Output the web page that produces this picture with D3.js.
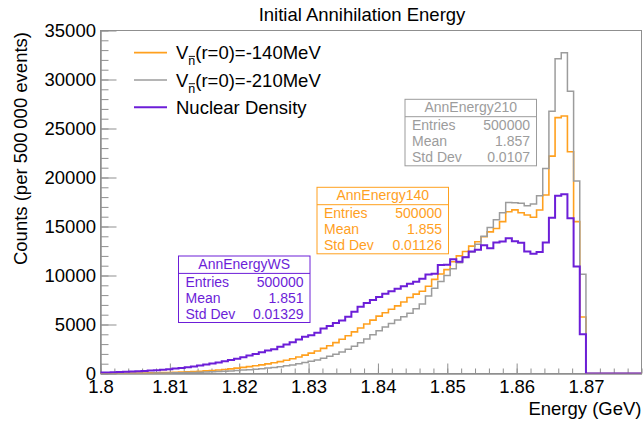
<!DOCTYPE html>
<html>
<head>
<meta charset="utf-8">
<script src="https://cdn.jsdelivr.net/npm/d3@7"></script>
<style>
  body { margin: 0; background: #fff; }
  svg { display: block; }
  text { font-family: "Liberation Sans", Arial, Helvetica, sans-serif; }
</style>
</head>
<body>
<svg id="chart" width="643" height="422"></svg>
<script>
// ---- Histogram binning (200 bins over 1.7 .. 1.878 GeV) ----
const histMin = 1.7;
const histMax = 1.878;
const nBins = 200;
const firstShownBin = 112;          // first bin reaching into the shown range

// Bin contents starting at firstShownBin (remaining bins are empty)
const countsWS = [
  90, 105, 125, 145, 170, 200, 230, 265, 300, 340,
  385, 440, 500, 570, 640, 720, 810, 910, 1020, 1130,
  1250, 1380, 1510, 1660, 1830, 2000, 2170, 2340, 2480, 2720,
  2950, 3200, 3480, 3750, 3900, 4150, 4600, 4850, 5150, 5400,
  5800, 6300, 6800, 7200, 7500, 7800, 8150, 8400, 8650, 8900,
  9150, 9350, 9670, 10100, 10180, 11060, 11100, 11670, 11400, 11870,
  12440, 12620, 13090, 12790, 13360, 13470, 13800, 13500, 13350, 12450,
  12210, 12400, 13380, 15900, 18140, 18280, 15840, 10920, 4000
];
const counts140 = [
  12, 15, 19, 23, 28, 34, 41, 50, 60, 72,
  86, 102, 120, 140, 165, 195, 230, 270, 310, 360,
  415, 475, 545, 620, 700, 790, 880, 980, 1090, 1210,
  1350, 1500, 1680, 1870, 2080, 2300, 2560, 2830, 3150, 3500,
  3850, 4250, 4650, 5050, 5450, 5850, 6200, 6550, 6900, 7300,
  7750, 8100, 8400, 8900, 9600, 10150, 10600, 11400, 12000, 12450,
  13000, 13450, 13950, 14450, 14800, 15500, 16500, 16700, 16400, 16180,
  15940, 16690, 18210, 22180, 26110, 26280, 22620, 15500, 5770
];
const counts210 = [
  5, 7, 9, 12, 15, 20, 25, 30, 36, 43,
  50, 60, 70, 82, 95, 110, 130, 150, 175, 200,
  230, 265, 300, 345, 390, 440, 490, 550, 620, 700,
  780, 880, 990, 1110, 1240, 1390, 1560, 1750, 1960, 2200,
  2470, 2780, 3150, 3520, 3950, 4350, 4750, 5100, 5450, 5800,
  6150, 6600, 7100, 7900, 8700, 9400, 10000, 10700, 11300, 11900,
  12400, 13200, 14000, 14900, 15700, 16400, 17450, 17430, 17370, 17130,
  17300, 18140, 20930, 26760, 32120, 32730, 28790, 19640, 10140
];

const xTickValues = [1.8, 1.81, 1.82, 1.83, 1.84, 1.85, 1.86, 1.87];
const yTickValues = [0, 5000, 10000, 15000, 20000, 25000, 30000, 35000];

const legendSub = ["(r=0)=-140MeV", "(r=0)=-210MeV"];
const statNames = ["AnnEnergy210", "AnnEnergy140", "AnnEnergyWS"];
const statEntries = ["500000", "500000", "500000"];
const statMeans = ["1.857", "1.855", "1.851"];
const statStdDevs = ["0.0107", "0.01126", "0.01329"];

// ---- Layout ----
const colors = { c140: "#ffa01e", c210: "#9c9c9c", ws: "#6c1ed8", axis: "#8f8f8f" };
const frame = { left: 100.5, right: 641.5, top: 30.5, bottom: 373.5 };

const svg = d3.select("#chart");

const x = d3.scaleLinear().domain([1.8, histMax]).range([frame.left, frame.right]);
const y = d3.scaleLinear().domain([0, 35000]).range([frame.bottom, frame.top]);

svg.append("defs").append("clipPath").attr("id", "plotClip")
  .append("rect")
  .attr("x", frame.left).attr("y", frame.top - 2)
  .attr("width", frame.right - frame.left)
  .attr("height", frame.bottom - frame.top + 2);

// frame
svg.append("rect")
  .attr("x", frame.left).attr("y", frame.top)
  .attr("width", frame.right - frame.left).attr("height", frame.bottom - frame.top)
  .attr("fill", "none").attr("stroke", colors.axis).attr("stroke-width", 1);

// ---- Axes (ticks pointing into the frame) ----
function styleAxis(g) {
  g.select(".domain").attr("stroke", colors.axis);
  g.selectAll(".tick line").attr("stroke", colors.axis);
  g.selectAll(".tick text")
    .attr("fill", "#000")
    .style("font-family", "'Liberation Sans', Arial, sans-serif")
    .style("font-size", "18.5px");
}

const xMinor = d3.range(0, 40).map(i => 1.8 + i * 0.002);
svg.append("g").attr("transform", `translate(0,${frame.bottom})`)
  .call(d3.axisBottom(x).tickValues(xMinor).tickSize(-5).tickSizeOuter(0).tickFormat(""))
  .call(styleAxis);
svg.append("g").attr("transform", `translate(0,${frame.bottom})`)
  .call(d3.axisBottom(x).tickValues(xTickValues).tickSize(-10).tickSizeOuter(0)
    .tickPadding(6.5).tickFormat(d3.format(".2~f")))
  .call(styleAxis);

const yMinor = d3.range(0, 36).map(i => i * 1000);
svg.append("g").attr("transform", `translate(${frame.left},0)`)
  .call(d3.axisLeft(y).tickValues(yMinor).tickSize(-8).tickSizeOuter(0).tickFormat(""))
  .call(styleAxis);
svg.append("g").attr("transform", `translate(${frame.left},0)`)
  .call(d3.axisLeft(y).tickValues(yTickValues).tickSize(-16).tickSizeOuter(0)
    .tickPadding(4.5).tickFormat(d3.format("d")))
  .call(styleAxis);

// ---- Histograms drawn as step outlines ----
const binWidth = (histMax - histMin) / nBins;
function stepPoints(counts) {
  const pts = [];
  d3.range(firstShownBin, nBins).forEach((k, i) => {
    const c = i < counts.length ? counts[i] : 0;
    const lo = histMin + k * binWidth, hi = lo + binWidth;
    pts.push([x(lo), y(c)], [x(hi), y(c)]);
  });
  return pts;
}
const line = d3.line();
const plot = svg.append("g").attr("clip-path", "url(#plotClip)");
[
  { counts: counts140, color: colors.c140, width: 1.6 },
  { counts: counts210, color: colors.c210, width: 1.5 },
  { counts: countsWS, color: colors.ws, width: 2 }
].forEach(s => {
  plot.append("path")
    .attr("d", line(stepPoints(s.counts)))
    .attr("fill", "none")
    .attr("stroke", s.color)
    .attr("stroke-width", s.width)
    .attr("stroke-linejoin", "miter");
});

// ---- Title and axis titles ----
svg.append("text").attr("x", 362).attr("y", 20.5)
  .attr("text-anchor", "middle").style("font-size", "18.5px")
  .text("Initial Annihilation Energy");

svg.append("text").attr("x", frame.right).attr("y", 415)
  .attr("text-anchor", "end").style("font-size", "18.5px")
  .text("Energy (GeV)");

svg.append("text")
  .attr("transform", `translate(27,32) rotate(-90)`)
  .attr("text-anchor", "end").style("font-size", "18.5px")
  .text("Counts (per 500\u2009000 events)");

// ---- Legend ----
const legendRows = [
  { color: colors.c140, width: 1.8, sub: legendSub[0] },
  { color: colors.c210, width: 1.6, sub: legendSub[1] },
  { color: colors.ws, width: 2, label: "Nuclear Density" }
];
legendRows.forEach((r, i) => {
  const cy = 52.7 + i * 27.3;
  const baseY = cy + 6.5;
  svg.append("line").attr("x1", 134).attr("x2", 167).attr("y1", cy).attr("y2", cy)
    .attr("stroke", r.color).attr("stroke-width", r.width);
  const t = svg.append("text").attr("x", 176).attr("y", baseY).style("font-size", "18.5px");
  if (r.label) {
    t.text(r.label);
  } else {
    const tv = t.append("tspan").text("V");
    const tn = t.append("tspan").attr("dy", 6).style("font-size", "12.5px").text("n");
    t.append("tspan").attr("dy", -6).text(r.sub);
    // bar over the subscript n (antineutron)
    const wV = tv.node().getComputedTextLength();
    const wN = tn.node().getComputedTextLength();
    const bx = 176 + wV;
    svg.append("line")
      .attr("x1", bx + 0.5).attr("x2", bx + wN - 0.3)
      .attr("y1", baseY - 2.8).attr("y2", baseY - 2.8)
      .attr("stroke", "#000").attr("stroke-width", 0.9);
  }
});

// ---- Statistics boxes ----
function statBox(x0, y0, color, name, entries, mean, std) {
  const w = 131.5, h = 66.5;
  const g = svg.append("g");
  g.append("rect").attr("x", x0).attr("y", y0).attr("width", w).attr("height", h)
    .attr("fill", "#fff").attr("stroke", color).attr("stroke-width", 1);
  g.append("line").attr("x1", x0).attr("x2", x0 + w).attr("y1", y0 + 17.4).attr("y2", y0 + 17.4)
    .attr("stroke", color).attr("stroke-width", 1);
  g.append("text").attr("x", x0 + w / 2).attr("y", y0 + 12.6).attr("text-anchor", "middle")
    .attr("fill", color).style("font-size", "14px").text(name);
  [["Entries", entries], ["Mean", mean], ["Std Dev", std]].forEach((row, i) => {
    const by = y0 + 30.7 + i * 15.9;
    g.append("text").attr("x", x0 + 7).attr("y", by).attr("fill", color)
      .style("font-size", "14px").text(row[0]);
    g.append("text").attr("x", x0 + w - 6.5).attr("y", by).attr("text-anchor", "end")
      .attr("fill", color).style("font-size", "14px").text(row[1]);
  });
}
statBox(405, 99.3, colors.c210, statNames[0], statEntries[0], statMeans[0], statStdDevs[0]);
statBox(317, 187.3, colors.c140, statNames[1], statEntries[1], statMeans[1], statStdDevs[1]);
statBox(178.5, 256, colors.ws, statNames[2], statEntries[2], statMeans[2], statStdDevs[2]);
</script>
</body>
</html>
